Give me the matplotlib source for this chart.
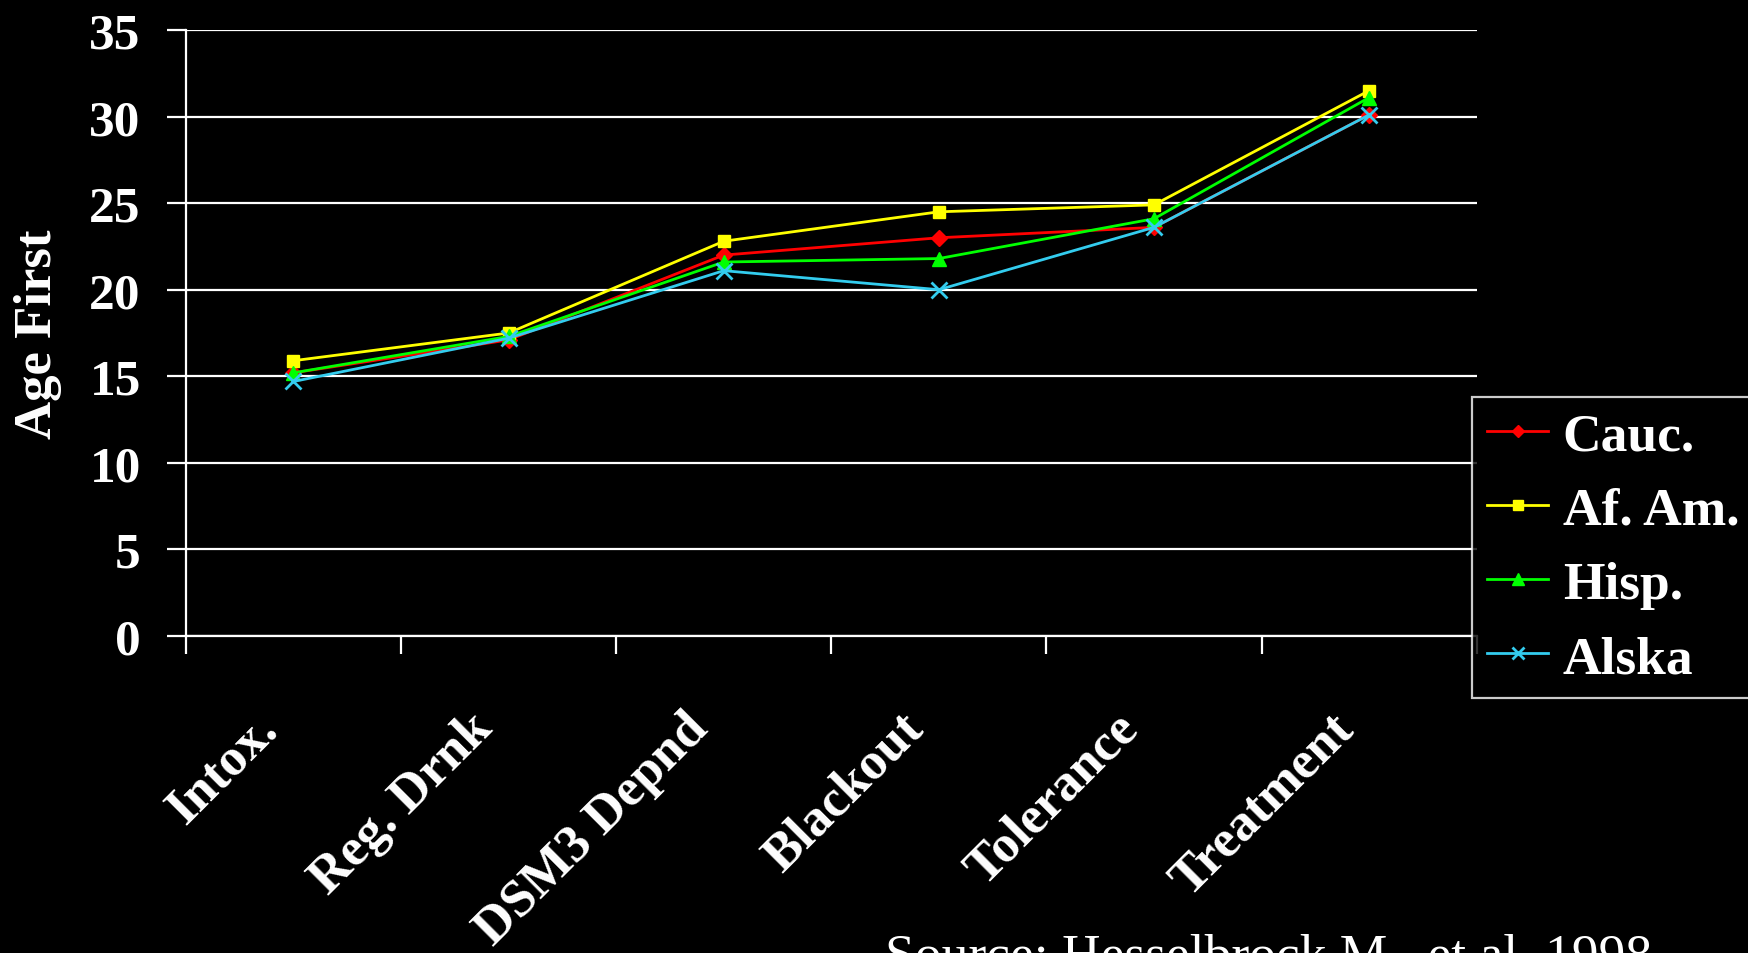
import numpy as np
import matplotlib.pyplot as plt
from matplotlib.transforms import ScaledTranslation

# Données
categorias = ['Intox.', 'Reg. Drnk', 'DSM3 Depnd', 'Blackout', 'Tolerance', 'Treatment']
cauc = [15.2, 17.1, 22.0, 23.0, 23.6, 30.1]
af_am = [15.9, 17.5, 22.8, 24.5, 24.9, 31.5]
hisp = [15.2, 17.3, 21.6, 21.8, 24.1, 31.1]
alska = [14.7, 17.2, 21.1, 20.0, 23.6, 30.1]
y_ticks = [0, 5, 10, 15, 20, 25, 30, 35]

serif = ['Liberation Serif', 'DejaVu Serif']

fig = plt.figure(figsize=(17.49, 9.54), dpi=100, facecolor='black')
ax = fig.add_axes([0.1063, 0.3323, 0.738, 0.6352], facecolor='black')

x = np.arange(len(categorias))
ax.plot(x, cauc, color='#FF0000', marker='D', ms=8, lw=2, label='Cauc.')
ax.plot(x, af_am, color='#FFFF00', marker='s', ms=9, lw=2, label='Af. Am.')
ax.plot(x, hisp, color='#00FF00', marker='^', ms=10, lw=2, label='Hisp.')
ax.plot(x, alska, color='#33CCEE', marker='x', ms=11, mew=2, lw=2, label='Alska')

# Eixos
ax.set_xlim(-0.5, len(categorias) - 0.5)
ax.set_ylim(0, 35)
ax.set_yticks(y_ticks)
ax.set_yticklabels([str(v) for v in y_ticks], fontfamily=serif,
                   fontweight='bold', fontsize=37, color='white')
ax.yaxis.grid(True, color='white', lw=1.6)
ax.set_axisbelow(True)

ax.set_xticks(x)
ax.set_xticklabels(categorias, rotation=45, ha='right', va='center',
                   rotation_mode='anchor', fontfamily=serif,
                   fontweight='bold', fontsize=38, color='white')
ax.tick_params(axis='x', length=0, pad=61)
desloc = ScaledTranslation(-0.235, 0, fig.dpi_scale_trans)
for lab in ax.get_xticklabels():
    lab.set_transform(lab.get_transform() + desloc)
ax.set_xticks(np.arange(-0.5, len(categorias) + 0.5, 1), minor=True)
ax.tick_params(axis='x', which='minor', length=13, width=1.6, color='white')
ax.tick_params(axis='y', length=13.5, width=1.6, color='white', pad=19)

for s in ['top', 'right']:
    ax.spines[s].set_visible(False)
for s in ['left', 'bottom']:
    ax.spines[s].set_color('white')
    ax.spines[s].set_linewidth(1.6)

ax.set_ylabel('Age First', fontfamily=serif, fontweight='bold',
              fontsize=38, color='white')
ax.yaxis.set_label_coords(-0.096, 0.5)

# Legenda
leg = fig.legend(loc='lower left', bbox_to_anchor=(0.8416, 0.2673),
                 prop={'family': serif, 'weight': 'bold', 'size': 38.5},
                 frameon=True, fancybox=False, facecolor='black',
                 edgecolor='white', handlelength=1.15, labelspacing=0.48,
                 borderpad=0.28, handletextpad=0.27, borderaxespad=0,
                 markerscale=0.8)
leg.get_frame().set_linewidth(1.6)
for t in leg.get_texts():
    t.set_color('white')

# Fonte
fig.text(0.506, -0.0168, 'Source: Hesselbrock M., et al. 1998', fontfamily=serif,
         fontsize=38.5, color='white', va='baseline', ha='left')

fig.savefig('out.png', dpi=100, facecolor='black')
